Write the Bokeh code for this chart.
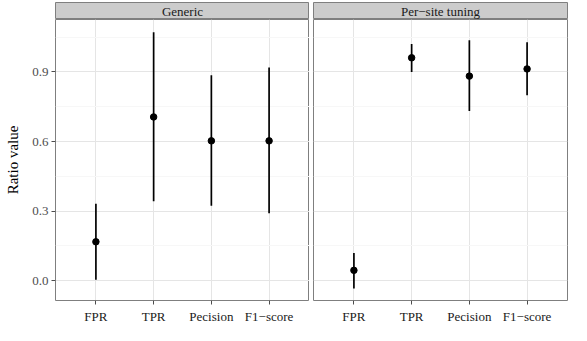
from bokeh.plotting import figure
from bokeh.models import Range1d, FactorRange, FixedTicker, Label, PrintfTickFormatter
from bokeh.layouts import column, row
from bokeh.embed import file_html
from bokeh.resources import INLINE

# ---- data ----
categories = ["FPR", "TPR", "Pecision", "F1\u2212score"]
panel_titles = ["Generic", "Per\u2212site tuning"]

generic_mean = [0.168, 0.706, 0.603, 0.603]
generic_lo = [0.004, 0.343, 0.323, 0.291]
generic_hi = [0.332, 1.071, 0.886, 0.919]

tuning_mean = [0.045, 0.961, 0.882, 0.913]
tuning_lo = [-0.033, 0.900, 0.732, 0.800]
tuning_hi = [0.120, 1.020, 1.037, 1.028]

y_ticks = [0.0, 0.3, 0.6, 0.9]
y_minor = [0.15, 0.45, 0.75, 1.05]

FONT = "Liberation Serif"
FRAME_W = 254
FRAME_H = 281
LEFT = 55
GAP = 4
RIGHT = 2
BORDER = "#7F7F7F"


def make_panel(mean, lo, hi, left, right, show_y):
    p = figure(
        x_range=FactorRange(*categories, range_padding=0.2, range_padding_units="absolute"),
        y_range=Range1d(-0.085, 1.126),
        frame_width=FRAME_W, frame_height=FRAME_H,
        min_border_left=left, min_border_right=right,
        min_border_top=0, min_border_bottom=24,
        toolbar_location=None, output_backend="svg",
        y_axis_location="left" if show_y else None,
    )
    p.background_fill_color = "white"
    p.border_fill_color = "white"
    p.outline_line_color = BORDER
    p.outline_line_width = 1

    # grids
    p.ygrid.ticker = FixedTicker(ticks=y_ticks, minor_ticks=y_minor)
    p.ygrid.grid_line_color = "#E5E5E5"
    p.ygrid.minor_grid_line_color = "#F7F7F7"
    p.xgrid.grid_line_color = "#E5E5E5"

    # x axis
    xa = p.xaxis[0]
    xa.axis_line_color = None
    xa.major_tick_line_color = "#4D4D4D"
    xa.major_tick_out = 4
    xa.major_tick_in = 0
    xa.minor_tick_line_color = None
    xa.major_label_text_font = FONT
    xa.major_label_text_font_size = "13px"
    xa.major_label_text_color = "#1A1A1A"
    xa.major_label_standoff = 4

    if show_y:
        ya = p.yaxis[0]
        ya.ticker = FixedTicker(ticks=y_ticks)
        ya.formatter = PrintfTickFormatter(format="%.1f")
        ya.axis_line_color = None
        ya.major_tick_line_color = "#4D4D4D"
        ya.major_tick_out = 4
        ya.major_tick_in = 0
        ya.minor_tick_line_color = None
        ya.major_label_text_font = FONT
        ya.major_label_text_font_size = "13px"
        ya.major_label_text_color = "#4D4D4D"
        ya.major_label_standoff = 3
        ya.axis_label = "Ratio value"
        ya.axis_label_text_font = FONT
        ya.axis_label_text_font_size = "15px"
        ya.axis_label_text_font_style = "normal"
        ya.axis_label_text_color = "black"
        ya.axis_label_standoff = 8

    p.segment(x0=categories, y0=lo, x1=categories, y1=hi,
              line_color="black", line_width=1.7)
    p.scatter(x=categories, y=mean, size=6.5, fill_color="black",
              line_color="black")
    return p


def make_strip(title, left, right):
    s = figure(
        x_range=Range1d(0, 1), y_range=Range1d(0, 1),
        frame_width=FRAME_W, frame_height=17,
        min_border_left=left, min_border_right=right,
        min_border_top=2, min_border_bottom=0,
        toolbar_location=None, output_backend="svg",
        x_axis_location=None, y_axis_location=None,
    )
    s.grid.visible = False
    s.background_fill_color = "#CCCCCC"
    s.border_fill_color = "white"
    s.outline_line_color = BORDER
    s.add_layout(Label(x=0.5, y=0.45, text=title, text_align="center",
                       text_baseline="middle", text_font=FONT,
                       text_font_size="13px", text_color="#1A1A1A"))
    return s


s1 = make_strip(panel_titles[0], LEFT, 0)
s2 = make_strip(panel_titles[1], GAP, RIGHT)
p1 = make_panel(generic_mean, generic_lo, generic_hi, LEFT, 0, True)
p2 = make_panel(tuning_mean, tuning_lo, tuning_hi, GAP, RIGHT, False)

layout = column(row(s1, s2), row(p1, p2))

open("out.html", "w").write(file_html(layout, INLINE))
